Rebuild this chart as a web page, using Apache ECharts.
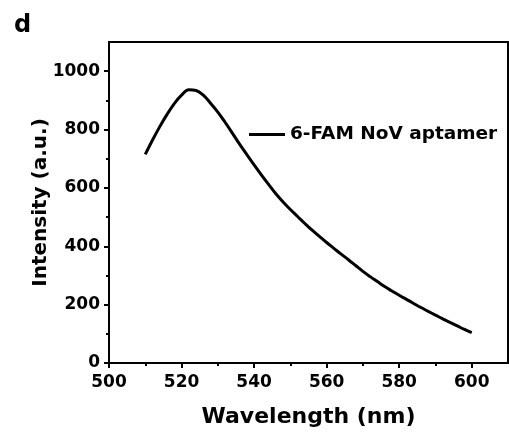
<!DOCTYPE html>
<html>
<head>
<meta charset="utf-8">
<script src="https://cdn.jsdelivr.net/npm/echarts@6/dist/echarts.min.js"></script>
<style>
html,body{margin:0;padding:0;background:#fff;}
#chart{width:509px;height:434px;}
</style>
</head>
<body>
<div id="chart"></div>
<script>
// Data
const wavelengths = [510,512,514,516,518,520,522,524,526,528,530,532,534,536,538,540,542,544,546,548,550,552,554,556,558,560,562,564,566,568,570,572,574,576,578,580,582,584,586,588,590,592,594,596,598,600];
const intensity   = [715,764,810,852,889,918,936,934,918,890,860,825,788,750,714,679,645,612,580,552,526,502,478,455,434,413,393,373,354,334,314,296,279,262,247,232,218,204,190,177,164,151,139,127,115,104];
const seriesName = '6-FAM NoV aptamer';
const xTickLabels = [500,520,540,560,580,600];
const xMinorTicks = [510,530,550,570,590];
const yTickLabels = [0,200,400,600,800,1000];
const yMinorTicks = [100,300,500,700,900];
const panelLabel = 'd';
const xTitle = 'Wavelength (nm)';
const yTitle = 'Intensity (a.u.)';

const FONT = 'DejaVu Sans';
const chart = echarts.init(document.getElementById('chart'), null, {renderer:'canvas'});
const lineStyle = {color:'#000', width:2};
const hidden = {show:false};
const plain = v => String(v);

chart.setOption({
  animation:false,
  backgroundColor:'#fff',
  title:{text:panelLabel,left:9,top:9,textStyle:{fontFamily:FONT,fontWeight:'bold',fontSize:24,color:'#000'}},
  legend:{
    data:[seriesName],left:249,top:125,padding:0,itemWidth:36,itemHeight:3,
    icon:'rect',
    textStyle:{fontFamily:FONT,fontWeight:'bold',fontSize:18.5,color:'#000'}
  },
  grid:{left:109,right:1,top:42,bottom:71,outerBoundsMode:'none',containLabel:false},
  xAxis:[
    {type:'value',min:500,max:610,position:'bottom',
     axisLine:{show:true,onZero:false,lineStyle:lineStyle},
     axisTick:{show:true,inside:false,length:5,lineStyle:lineStyle,customValues:xTickLabels},
     axisLabel:{show:true,margin:11,customValues:xTickLabels,formatter:plain,fontFamily:FONT,fontWeight:'bold',fontSize:17,color:'#000'},
     splitLine:hidden,
     name:xTitle,nameLocation:'middle',nameGap:43,nameMoveOverlap:false,
     nameTextStyle:{fontFamily:FONT,fontWeight:'bold',fontSize:22,color:'#000'}},
    {type:'value',min:500,max:610,position:'bottom',
     axisLine:{show:false,onZero:false},
     axisTick:{show:true,inside:false,length:3,lineStyle:lineStyle,customValues:xMinorTicks},
     axisLabel:hidden,splitLine:hidden},
    {type:'value',min:500,max:610,position:'top',
     axisLine:{show:true,onZero:false,lineStyle:lineStyle},axisTick:hidden,axisLabel:hidden,splitLine:hidden}
  ],
  yAxis:[
    {type:'value',min:0,max:1100,position:'left',
     axisLine:{show:true,onZero:false,lineStyle:lineStyle},
     axisTick:{show:true,inside:false,length:5,lineStyle:lineStyle,customValues:yTickLabels},
     axisLabel:{show:true,margin:9,customValues:yTickLabels,formatter:plain,fontFamily:FONT,fontWeight:'bold',fontSize:17,color:'#000'},
     splitLine:hidden,
     name:yTitle,nameLocation:'middle',nameGap:58,nameRotate:90,nameMoveOverlap:false,
     nameTextStyle:{fontFamily:FONT,fontWeight:'bold',fontSize:20,color:'#000'}},
    {type:'value',min:0,max:1100,position:'left',
     axisLine:{show:false,onZero:false},
     axisTick:{show:true,inside:false,length:3,lineStyle:lineStyle,customValues:yMinorTicks},
     axisLabel:hidden,splitLine:hidden},
    {type:'value',min:0,max:1100,position:'right',
     axisLine:{show:true,onZero:false,lineStyle:lineStyle},axisTick:hidden,axisLabel:hidden,splitLine:hidden}
  ],
  series:[{
    name:seriesName,type:'line',xAxisIndex:0,yAxisIndex:0,
    data:wavelengths.map((w,i)=>[w,intensity[i]]),
    smooth:0.4,showSymbol:false,symbol:'none',
    lineStyle:{color:'#000',width:3},itemStyle:{color:'#000'}
  }]
});
</script>
</body>
</html>
